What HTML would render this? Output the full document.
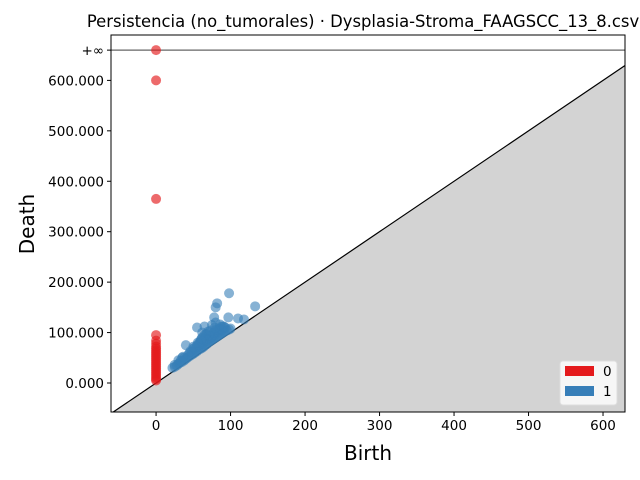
<!DOCTYPE html>
<html><head><meta charset="utf-8"><style>
html,body{margin:0;padding:0;background:#fff}
svg{display:block;font-family:"DejaVu Sans","Liberation Sans",sans-serif}
</style></head><body>
<svg id="chart" width="640" height="480" xmlns="http://www.w3.org/2000/svg"></svg>
<script>
const xTicks=[0,100,200,300,400,500,600];
const yTicks=[0,100,200,300,400,500,600];
const yTickLabels=["0.000","100.000","200.000","300.000","400.000","500.000","600.000"];
const h0Births=[0,0,0,0,0,0,0,0,0,0,0,0,0,0,0,0,0,0,0,0,0,0,0];
const h0Deaths=[5,8,12,16,20,24,28,32,36,40,44,48,52,56,60,64,68,72,78,84,95,365,600];
const h0InfCount=1;
const h1Births=[22,25,28,30,32,35,38,40,42,45,48,50,52,55,57,60,62,64,66,68,70,72,74,76,78,80,82,84,86,88,90,92,95,98,100,30,35,45,50,55,60,62,65,68,70,72,75,78,80,85,88,40,55,65,78,80,82,80,98,133,97,110,118,60,70,90,58,62,75,25,33,38,43,48,53,58,63,68,73,78,83,88,93,36,46,52,57,64,71,77,84,91,50,56,61,67,73,79,86];
const h1Deaths=[30,32,35,38,40,42,45,48,50,53,56,58,60,63,66,68,70,72,75,77,80,82,84,86,88,90,92,94,96,98,100,102,104,106,108,45,50,60,68,75,82,90,95,98,102,88,92,100,105,108,112,75,110,112,130,120,158,150,178,152,130,128,126,85,95,112,80,100,115,36,44,50,56,62,67,72,78,84,90,96,101,105,110,52,63,70,76,86,94,100,106,112,72,80,88,96,104,110,116];
const svg=document.getElementById('chart');
const NS='http://www.w3.org/2000/svg';
const L=111,R=625,T=35,B=412,xmin=-60.5,xmax=629.5,ymin=-57.5,ymax=690,yInf=660;
const xs=v=>L+(v-xmin)/(xmax-xmin)*(R-L);
const ys=v=>B-(v-ymin)/(ymax-ymin)*(B-T);
function mk(tag,attrs,parent){const e=document.createElementNS(NS,tag);for(const k in attrs)e.setAttribute(k,attrs[k]);(parent||svg).appendChild(e);return e;}
const clip=mk('clipPath',{id:'cp'});mk('rect',{x:L,y:T,width:R-L,height:B-T},clip);
const diag=mk('polygon',{points:`${xs(xmin)},${ys(xmin)} ${xs(xmax)},${ys(xmax)} ${xs(xmax)},${B} ${xs(xmin)},${B}`,fill:'#d3d3d3','clip-path':'url(#cp)'});


const dl=mk('line',{x1:xs(xmin),y1:ys(xmin),x2:xs(xmax),y2:ys(xmax),stroke:'#000','stroke-width':1.2,'clip-path':'url(#cp)'});


const il=mk('line',{x1:L,y1:ys(yInf),x2:R,y2:ys(yInf),stroke:'#666','stroke-width':1.2});


for(let i=0;i<h1Births.length;i++){const c=mk('circle',{cx:xs(h1Births[i]),cy:ys(h1Deaths[i]),r:5,fill:'#377eb8','fill-opacity':0.6});

}
for(let i=0;i<h0Births.length;i++){const c=mk('circle',{cx:xs(h0Births[i]),cy:ys(h0Deaths[i]),r:5,fill:'#e41a1c','fill-opacity':0.65});

}
for(let i=0;i<h0InfCount;i++){const c=mk('circle',{cx:xs(0),cy:ys(yInf),r:5,fill:'#e41a1c','fill-opacity':0.65});

}
const fr=mk('rect',{x:L,y:T,width:R-L,height:B-T,fill:'none',stroke:'#000','stroke-width':1});


xTicks.forEach(t=>{const x=xs(t);mk('line',{x1:x,y1:B,x2:x,y2:B+4,stroke:'#000'});
const tx=mk('text',{x:x,y:B+18,'text-anchor':'middle','font-size':13.5});tx.textContent=t;

});
yTicks.forEach((t,i)=>{const y=ys(t);mk('line',{x1:L-4,y1:y,x2:L,y2:y,stroke:'#000'});
const tx=mk('text',{x:L-7,y:y+5,'text-anchor':'end','font-size':13.5});tx.textContent=yTickLabels[i];

});
mk('line',{x1:L-4,y1:ys(yInf),x2:L,y2:ys(yInf),stroke:'#000'});
const inf=mk('text',{x:L-7,y:ys(yInf)+5,'text-anchor':'end','font-size':13.5});inf.textContent='+∞';


const ti=mk('text',{x:363,y:27,'text-anchor':'middle','font-size':16.4});ti.textContent='Persistencia (no_tumorales) · Dysplasia-Stroma_FAAGSCC_13_8.csv';


const xt=mk('text',{x:368,y:460,'text-anchor':'middle','font-size':20});xt.textContent='Birth';


const yt=mk('text',{x:34,y:224,'text-anchor':'middle','font-size':20,transform:'rotate(-90 34 224)'});yt.textContent='Death';


const lg=mk('g',{});


mk('rect',{x:560,y:361,width:57,height:44,rx:3,fill:'#fff','fill-opacity':0.8,stroke:'#ddd'},lg);
const p0=mk('rect',{x:565,y:366,width:29,height:10,fill:'#e41a1c'},lg);


const p1=mk('rect',{x:565,y:386,width:29,height:10,fill:'#377eb8'},lg);


const l0=mk('text',{x:603,y:376,'font-size':13.5},lg);l0.textContent='0';
const l1=mk('text',{x:603,y:396,'font-size':13.5},lg);l1.textContent='1';
</script>
</body></html>
